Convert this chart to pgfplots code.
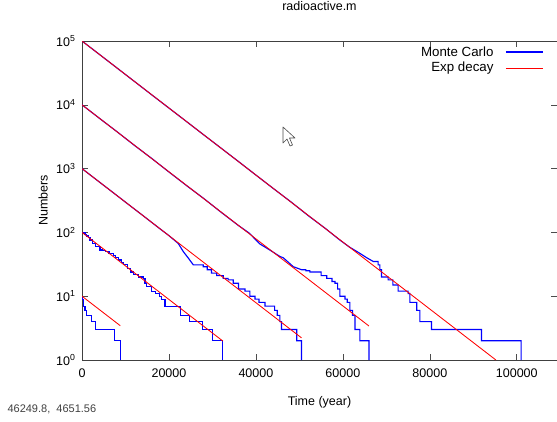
\documentclass[border=0pt]{standalone}
\usepackage{fontspec}
\setmainfont{Liberation Sans}
\usepackage{pgfplots}
\pgfplotsset{compat=1.18}

\tikzset{
  mc/.style={blue, line width=1.15pt},
  ex/.style={red, line width=0.85pt},
}

\begin{document}
\begin{tikzpicture}[x=1pt,y=1pt,font=\fontsize{12.5}{15}\selectfont]
\useasboundingbox (0,0) rectangle (557,421);
\begin{axis}[
    at={(82pt,61pt)}, anchor=south west,
    scale only axis,
    width=475pt, height=319pt,
    xmin=0, xmax=109250,
    ymode=log, log basis y=10,
    ymin=1, ymax=100000,
    xtick={0,20000,40000,60000,80000,100000},
    xticklabels={0,20000,40000,60000,80000,100000},
    scaled x ticks=false,
    ytick={1,10,100,1000,10000,100000},
    yticklabels={10\textsuperscript{0},10\textsuperscript{1},10\textsuperscript{2},10\textsuperscript{3},10\textsuperscript{4},10\textsuperscript{5}},
    yminorticks=false,
    tick align=inside,
    major tick length=6pt,
    tick style={black!70, line width=0.6pt},
    axis line style={black!75, line width=0.6pt},
    xticklabel style={yshift=-5pt},
    yticklabel style={xshift=-3pt},
    title={radioactive.m},
    title style={at={(axis description cs:0.5,1.09)}, anchor=center},
    xlabel={Time (year)},
    xlabel style={at={(axis description cs:0.5,-0.132)}, anchor=center},
    ylabel={Numbers},
    ylabel style={at={(axis description cs:-0.082,0.5)}, anchor=center},
]
% Monte Carlo, N0 = 1e5
\addplot[mc] coordinates {
 (0,100000)(4000,61700)(8000,38000)(12000,23400)(16000,14400)(20000,8890)
 (24000,5490)(28000,3380)(32000,2090)(36000,1290)(40000,792)(44000,488)
 (48000,303)(52000,184)(56000,115)(59300,76)(61500,59)(63900,47)(65500,40)
 (67000,35)(68100,35)(68100,31)(68500,31)(68500,26)(68900,26)(68900,20)
 (70400,20)(70400,18)(71500,18)(71500,15)(72700,15)(72700,12)(75000,12)
 (75000,11)(75400,11)(75400,8)(77000,8)(77000,6)(77700,6)(77700,4)(80400,4)
 (80400,3)(91900,3)(91900,2)(101000,2)(101000,1)};
% N0 = 1e4
\addplot[mc] coordinates {
 (0,10000)(4000,6150)(8000,3810)(12000,2330)(16000,1450)(20000,885)(24000,545)
 (28000,340)(32000,207)(36000,128)(38500,97)(40900,66)(43200,53)(45500,42)
 (46300,40)(48600,29)(50500,26)(51500,26)(51500,25)(52400,25)(52400,24)
 (55000,24)(55000,21)(56300,21)(56300,19)(57500,19)(57500,17)(58200,17)
 (58200,16)(58800,16)(58800,13)(59300,13)(59300,10)(60500,10)(60500,9)
 (61000,9)(61000,8)(61600,8)(61600,6)(62200,6)(62200,5)(62800,5)(62800,3)
 (63900,3)(63900,2)(66000,2)(66000,1)};
% N0 = 1e3
\addplot[mc] coordinates {
 (0,1000)(2000,785)(4000,616)(6000,484)(8000,380)(10000,298)(12000,234)
 (14000,184)(16000,144)(18000,113)(20000,89)(22150,67)(23300,50)(24400,40)
 (25600,31)(27900,31)(27900,29)(28800,29)(28800,26)(29800,26)(29800,23)
 (31000,23)(31000,21)(32500,21)(32500,19)(33600,19)(33600,18)(34800,18)
 (34800,16)(36000,16)(36000,13)(37500,13)(37500,12)(38600,12)(38600,10)
 (39800,10)(39800,9)(40700,9)(40700,8)(42100,8)(42100,7)(44300,7)(44300,6)
 (44900,6)(44900,5)(45500,5)(45500,4)(45900,4)(45900,3)(49400,3)(49400,2)
 (50500,2)(50500,1)};
% N0 = 1e2
\addplot[mc] coordinates {
 (0,100)(300,100)(300,98)(700,98)(700,94)(1100,94)(1100,88)(1500,88)(1500,82)
 (1840,82)(1840,76)(2500,76)(2500,68)(3200,68)(3200,61)(4140,61)(4140,53)
 (4800,53)(4800,52)(5500,52)(5500,50)(6200,50)(6200,47)(7200,47)(7200,44)
 (7800,44)(7800,40)(8300,40)(8300,37)(9000,37)(9000,34)(9500,34)(9500,31)
 (10500,31)(10500,27)(11200,27)(11200,24)(11800,24)(11800,22)(13000,22)
 (13000,20)(14100,20)(14100,19)(14500,19)(14500,16)(14900,16)(14900,14)
 (16000,14)(16000,12)(17000,12)(17000,11)(17900,11)(17900,10)(18300,10)
 (18300,9)(19100,9)(19100,7)(22600,7)(22600,5)(24800,5)(24800,4)(27800,4)
 (27800,3)(30100,3)(30100,2)(32400,2)(32400,1)};
% N0 = 10
\addplot[mc] coordinates {
 (0,10)(100,10)(100,9)(250,9)(250,8)(400,8)(400,7)(700,7)(700,6)(1100,6)
 (1100,5)(2200,5)(2200,4)(3200,4)(3200,3)(7500,3)(7500,2)(8800,2)(8800,1)};

% exponential decay
\addplot[ex] coordinates {(0,100000)(95200,1)};
\addplot[ex] coordinates {(0,10000)(66000,3.41)};
\addplot[ex] coordinates {(0,1000)(50500,2.22)};
\addplot[ex] coordinates {(0,100)(32400,1.98)};
\addplot[ex] coordinates {(0,10)(8800,3.45)};

% legend, gnuplot style: text then line
\draw[mc] (axis description cs:0.8926,0.9655) -- (axis description cs:0.9705,0.9655);
\draw[ex] (axis description cs:0.8926,0.9154) -- (axis description cs:0.9705,0.9154);
\node[anchor=east, font=\fontsize{13.3}{15}\selectfont] at (axis description cs:0.8737,0.9655) {Monte Carlo};
\node[anchor=east, font=\fontsize{13.3}{15}\selectfont] at (axis description cs:0.8737,0.9154) {Exp decay};
\end{axis}
% mouse pointer left in the screenshot
\draw[black!70, fill=white, line width=0.6pt, line join=round]
  (283,294) -- (283,278) -- (287,282) -- (290,275) -- (292.5,276) -- (289.5,283) -- (295,283) -- cycle;
\node[anchor=west, text=black!75, font=\fontsize{11}{13}\selectfont] at (4,12) {46249.8,\ \ 4651.56};
\end{tikzpicture}
\end{document}
